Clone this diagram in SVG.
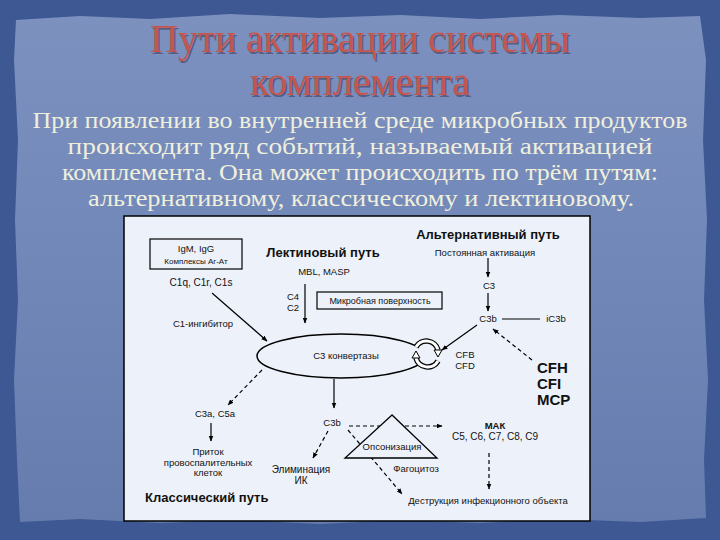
<svg xmlns="http://www.w3.org/2000/svg" width="720" height="540" viewBox="0 0 720 540">
<defs>
  <linearGradient id="paper" x1="0" y1="0" x2="0" y2="1">
    <stop offset="0" stop-color="#7d91bf"/>
    <stop offset="0.5" stop-color="#7087b8"/>
    <stop offset="1" stop-color="#667cae"/>
  </linearGradient>
  <marker id="ah" viewBox="0 0 10 10" refX="9" refY="5" markerWidth="6" markerHeight="6" orient="auto" markerUnits="userSpaceOnUse">
    <path d="M0,1 L10,5 L0,9 Z" fill="#000"/>
  </marker>
  <style>
    .title{font-family:"Liberation Serif","DejaVu Serif",serif;font-size:39px;fill:#c4564e;text-anchor:middle}
    .tshadow{font-family:"Liberation Serif","DejaVu Serif",serif;font-size:39px;fill:#3a3554;opacity:0.55;text-anchor:middle}
    .body{font-family:"Liberation Serif","DejaVu Serif",serif;font-size:24px;fill:#f0efdc;text-anchor:middle}
    .t{font-family:"Liberation Sans",Arial,sans-serif;font-size:9.5px;fill:#111;text-anchor:middle}
    .tb{font-family:"Liberation Sans",Arial,sans-serif;font-size:13px;font-weight:bold;fill:#111;text-anchor:middle}
    .tbig{font-family:"Liberation Sans",Arial,sans-serif;font-size:15px;font-weight:bold;fill:#111}
    .ln{stroke:#000;stroke-width:1.2;fill:none}
    .dash{stroke:#000;stroke-width:1.2;fill:none;stroke-dasharray:4 3}
    .box{fill:none;stroke:#000;stroke-width:1.2}
  </style>
</defs>

<!-- background -->
<rect x="0" y="0" width="720" height="540" fill="#3d5893"/>
<path d="M16,20 L80,16 L150,19 L230,14 L320,18 L400,15 L480,19 L560,15 L640,18 L700,16 L706,60 L703,140 L707,220 L704,300 L708,380 L704,460 L706,518 L640,522 L560,519 L480,523 L400,520 L320,524 L240,520 L160,523 L80,519 L20,522 L17,460 L14,380 L18,300 L15,220 L18,140 L14,60 Z" fill="url(#paper)"/>

<!-- title -->
<g id="title">
  <text class="tshadow" x="361.5" y="53.5" textLength="420" lengthAdjust="spacingAndGlyphs">Пути активации системы</text>
  <text class="title" x="360" y="52" textLength="420" lengthAdjust="spacingAndGlyphs">Пути активации системы</text>
  <text class="tshadow" x="361.5" y="96.5" textLength="220" lengthAdjust="spacingAndGlyphs">комплемента</text>
  <text class="title" x="360" y="95" textLength="220" lengthAdjust="spacingAndGlyphs">комплемента</text>
</g>

<!-- body text -->
<g id="body">
  <text class="body" x="360" y="128" textLength="655" lengthAdjust="spacingAndGlyphs">При появлении во внутренней среде микробных продуктов</text>
  <text class="body" x="360" y="154" textLength="585" lengthAdjust="spacingAndGlyphs">происходит ряд событий, называемый активацией</text>
  <text class="body" x="360" y="180" textLength="596" lengthAdjust="spacingAndGlyphs">комплемента. Она может происходить по трём путям:</text>
  <text class="body" x="361" y="206" textLength="546" lengthAdjust="spacingAndGlyphs">альтернативному, классическому и лектиновому.</text>
</g>

<!-- diagram frame -->
<rect id="frame" x="124" y="216" width="466" height="305" fill="#edf2fa" stroke="#000" stroke-width="1.5"/>

<!-- connectors -->
<g id="connectors">
  <line class="ln" x1="212" y1="293" x2="267" y2="341" marker-end="url(#ah)"/>
  <line class="ln" x1="305" y1="284" x2="305" y2="323" marker-end="url(#ah)"/>
  <line class="ln" x1="488" y1="258" x2="488" y2="277" marker-end="url(#ah)"/>
  <line class="ln" x1="488" y1="293" x2="488" y2="311" marker-end="url(#ah)"/>
  <line class="ln" x1="502" y1="319" x2="540" y2="319" stroke-width="1.5"/>
  <line class="ln" x1="477" y1="325" x2="442" y2="350" marker-end="url(#ah)"/>
  <line class="dash" x1="532" y1="360" x2="493" y2="329" marker-end="url(#ah)"/>
  <line class="dash" x1="262" y1="370" x2="228" y2="405" marker-end="url(#ah)"/>
  <line class="ln" x1="211" y1="423" x2="211" y2="441" marker-end="url(#ah)"/>
  <line class="ln" x1="334" y1="379" x2="334" y2="408" marker-end="url(#ah)"/>
  <line class="dash" x1="328" y1="431" x2="313" y2="458" marker-end="url(#ah)"/>
  <line class="dash" x1="349" y1="426" x2="442" y2="426" marker-end="url(#ah)"/>
  <line class="dash" x1="348" y1="430" x2="402" y2="494" marker-end="url(#ah)"/>
  <line class="dash" x1="489" y1="453" x2="489" y2="489" marker-end="url(#ah)"/>
</g>

<!-- nodes -->
<g id="n-igm">
  <rect class="box" x="150" y="239" width="92" height="30" stroke-width="1.5"/>
  <text class="t" x="196" y="252">IgM, IgG</text>
  <text class="t" x="196" y="264" style="font-size:8px">Комплексы Аг-Ат</text>
</g>
<g id="n-c1"><text class="t" x="201" y="286" style="font-size:10px">C1q, C1r, C1s</text></g>
<g id="n-c1inh"><text class="t" x="203" y="327">C1-ингибитор</text></g>
<g id="n-lectin"><text class="tb" x="323" y="257">Лектиновый путь</text></g>
<g id="n-mbl"><text class="t" x="324" y="275">MBL, MASP</text></g>
<g id="n-c4c2">
  <text class="t" x="293" y="300">C4</text>
  <text class="t" x="293" y="311">C2</text>
</g>
<g id="n-microb">
  <rect class="box" x="317" y="292" width="125" height="17" stroke-width="1.5"/>
  <text class="t" x="380" y="304" style="font-size:9px">Микробная поверхность</text>
</g>
<g id="n-alt"><text class="tb" x="488" y="239">Альтернативный путь</text></g>
<g id="n-const"><text class="t" x="485" y="256">Постоянная активация</text></g>
<g id="n-c3"><text class="t" x="489" y="289">C3</text></g>
<g id="n-c3b-top"><text class="t" x="488" y="322">C3b</text></g>
<g id="n-ic3b"><text class="t" x="556" y="322">iC3b</text></g>
<g id="n-reg">
  <text class="tbig" x="537" y="373">CFH</text>
  <text class="tbig" x="537" y="389">CFI</text>
  <text class="tbig" x="537" y="405">MCP</text>
</g>
<g id="n-cfb">
  <text class="t" x="465" y="358">CFB</text>
  <text class="t" x="465" y="369">CFD</text>
</g>
<g id="n-conv">
  <ellipse cx="341" cy="356" rx="84" ry="22" fill="#edf2fa" stroke="#000" stroke-width="1.5"/>
  <text class="t" x="346" y="359">C3 конвертазы</text>
</g>
<g id="n-cycle">
  <circle cx="427" cy="354" r="14" fill="#edf2fa" stroke="none"/>
  <path d="M416,347 A12,12 0 0 1 438,350" fill="none" stroke="#000" stroke-width="5.5"/>
  <path d="M416,347 A12,12 0 0 1 438,350" fill="none" stroke="#fff" stroke-width="3"/>
  <path d="M434,350 L442,350 L438,357 Z" fill="#fff" stroke="#000" stroke-width="1"/>
  <path d="M438,361 A12,12 0 0 1 416,358" fill="none" stroke="#000" stroke-width="5.5"/>
  <path d="M438,361 A12,12 0 0 1 416,358" fill="none" stroke="#fff" stroke-width="3"/>
  <path d="M420,358 L412,358 L416,351 Z" fill="#fff" stroke="#000" stroke-width="1"/>
</g>
<g id="n-c3a"><text class="t" x="215" y="417">C3a, C5a</text></g>
<g id="n-influx">
  <text class="t" x="208" y="455">Приток</text>
  <text class="t" x="208" y="466">провоспалительных</text>
  <text class="t" x="208" y="476">клеток</text>
</g>
<g id="n-classic"><text class="tb" x="145" y="502" style="text-anchor:start">Классический путь</text></g>
<g id="n-c3b"><text class="t" x="332" y="426">C3b</text></g>
<g id="n-elim">
  <text class="t" x="301" y="473" style="font-size:10px">Элиминация</text>
  <text class="t" x="301" y="484" style="font-size:10px">ИК</text>
</g>
<g id="n-opson">
  <path d="M392,415 L345,458 L437,458 Z" fill="#edf2fa" stroke="#000" stroke-width="1.3"/>
  <text class="t" x="392" y="450">Опсонизация</text>
</g>
<g id="n-phago"><text class="t" x="416" y="472">Фагоцитоз</text></g>
<g id="n-mac">
  <text class="t" x="495" y="429" style="font-weight:bold">МАК</text>
  <text class="t" x="495" y="440" style="font-size:10px">C5, C6, C7, C8, C9</text>
</g>
<g id="n-destr"><text class="t" x="488" y="504">Деструкция инфекционного объекта</text></g>
</svg>
